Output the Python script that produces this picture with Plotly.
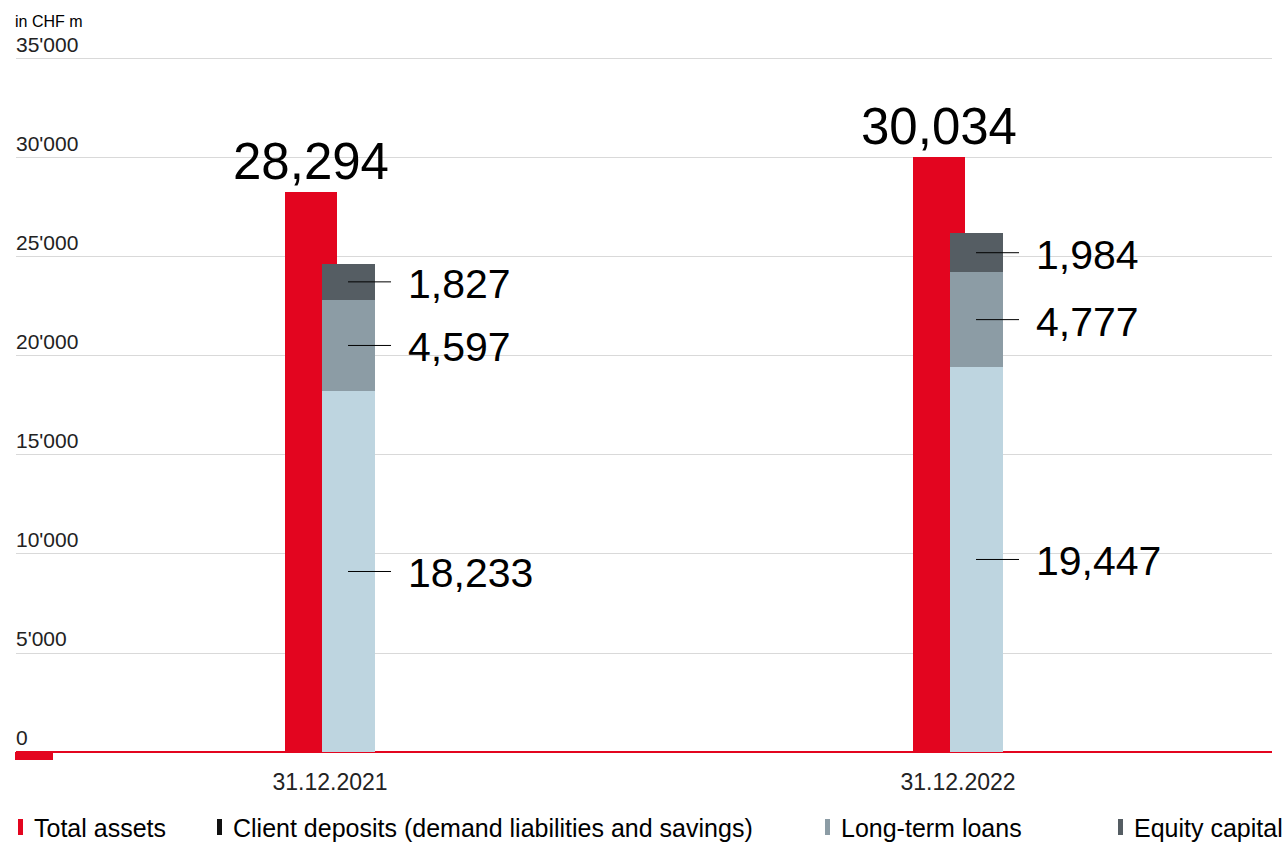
import plotly.graph_objects as go

# --- data (CHF millions) ---
dates = ["31.12.2021", "31.12.2022"]
total_assets = [28294, 30034]
client_deposits = [18233, 19447]
long_term_loans = [4597, 4777]
equity_capital = [1827, 1984]

series_names = ["Total assets", "Client deposits (demand liabilities and savings)",
                "Long-term loans", "Equity capital"]
y_ticks = [0, 5000, 10000, 15000, 20000, 25000, 30000, 35000]
y_tick_text = ["0", "5'000", "10'000", "15'000", "20'000", "25'000", "30'000", "35'000"]

# --- styling ---
RED = "#e3051f"
DEP = "#bed5e0"
LOAN = "#8c9ca5"
EQ = "#555d63"
legend_colors = [RED, "#111111", LOAN, EQ]
FONT = "Liberation Sans, Arial, sans-serif"

W, H = 1288, 843
Y_TOP = 35100  # a little headroom so the 35'000 gridline is drawn
ML, MR, MB = 16, 16, 91
PH = 693 * Y_TOP / 35000
MT = H - MB - PH
PW = W - ML - MR

def px_x(p):
    return (p - ML) / PW

def px_y(p):
    return (H - MB - p) / PH

xs = list(range(len(dates)))
red_off, red_w = -0.0709, 0.0828
stk_off, stk_w = -0.0135, 0.0844

fig = go.Figure()
fig.add_trace(go.Bar(x=xs, y=total_assets, offset=red_off, width=red_w,
                     marker=dict(color=RED, line=dict(width=0)), showlegend=False,
                     hoverinfo="skip"))

bases = [0] * len(xs)
segments = [(client_deposits, DEP), (long_term_loans, LOAN), (equity_capital, EQ)]
for vals, col in segments:
    fig.add_trace(go.Bar(x=xs, y=vals, base=list(bases), offset=stk_off, width=stk_w,
                         marker=dict(color=col, line=dict(width=0)), showlegend=False,
                         hoverinfo="skip"))
    for i, v in enumerate(vals):
        mid = bases[i] + v / 2
        cx = xs[i] + stk_off + stk_w / 2
        fig.add_shape(type="line", xref="x", yref="y", xsizemode="pixel", xanchor=cx,
                      x0=0, x1=43, y0=mid, y1=mid, line=dict(color="#000000", width=1))
        fig.add_annotation(x=cx, y=mid, xref="x", yref="y", text=f"{v:,}",
                           showarrow=False, xanchor="left", yanchor="middle",
                           xshift=58, yshift=-2, font=dict(family=FONT, size=41, color="#000000"))
    bases = [b + v for b, v in zip(bases, vals)]

# totals above the red bars
for i, v in enumerate(total_assets):
    fig.add_annotation(x=xs[i] + red_off + red_w / 2, y=v, xref="x", yref="y",
                       text=f"{v:,}", showarrow=False, xanchor="center", yanchor="bottom",
                       yshift=0, font=dict(family=FONT, size=51, color="#000000"))

# unit caption
fig.add_annotation(x=px_x(13), y=px_y(22), xref="paper", yref="paper", text="in CHF m",
                   showarrow=False, xanchor="left", yanchor="middle",
                   font=dict(family=FONT, size=16, color="#000000"))

# red stub under the baseline on the left
fig.add_shape(type="rect", xref="paper", yref="paper",
              x0=px_x(15), x1=px_x(53), y0=px_y(752), y1=px_y(760),
              line=dict(width=0), fillcolor=RED)

# legend row
legend_left = [18, 217, 825, 1118]
for name, col, lx in zip(series_names, legend_colors, legend_left):
    fig.add_shape(type="rect", xref="paper", yref="paper",
                  x0=px_x(lx), x1=px_x(lx + 5), y0=px_y(835), y1=px_y(819),
                  line=dict(width=0), fillcolor=col)
    fig.add_annotation(x=px_x(lx + 14), y=px_y(828), xref="paper", yref="paper",
                       text=name, showarrow=False, xanchor="left", yanchor="middle",
                       font=dict(family=FONT, size=25, color="#000000"))

fig.update_layout(
    width=W, height=H,
    margin=dict(l=ML, r=MR, t=MT, b=MB, pad=0),
    paper_bgcolor="#ffffff", plot_bgcolor="#ffffff",
    barmode="overlay", bargap=0,
    showlegend=False,
    xaxis=dict(range=[-0.5, 1.5], tickvals=xs, ticktext=dates, showgrid=False,
               zeroline=False, showline=False, ticks="", ticklabelstandoff=14,
               tickfont=dict(family=FONT, size=23, color="#222222"), fixedrange=True),
    yaxis=dict(range=[0, Y_TOP], tickvals=y_ticks, ticktext=y_tick_text,
               showgrid=True, gridcolor="#d9d9d9", gridwidth=1,
               zeroline=True, zerolinecolor=RED, zerolinewidth=2,
               showline=False, ticks="", ticklabelposition="inside top",
               ticklabeloverflow="allow", ticklabelstandoff=-3,
               tickfont=dict(family=FONT, size=21, color="#222222"), fixedrange=True),
)

fig.write_html("out.html")
